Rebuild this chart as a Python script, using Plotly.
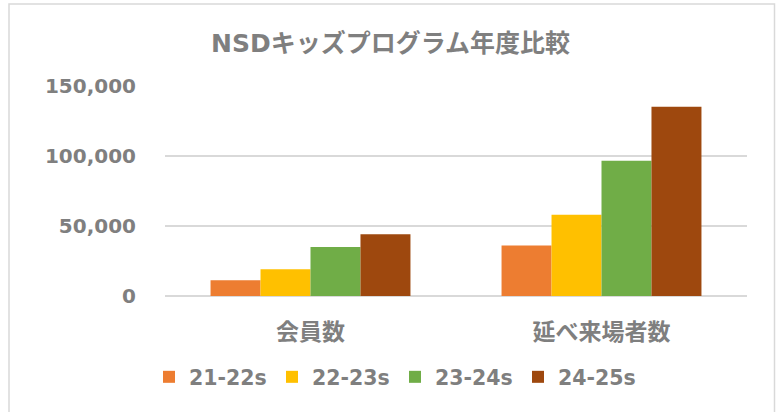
import plotly.graph_objects as go

categories = ["会員数", "延べ来場者数"]
series_names = ["21-22s", "22-23s", "23-24s", "24-25s"]
values_2122 = [11200, 36000]
values_2223 = [19100, 58000]
values_2324 = [35000, 96600]
values_2425 = [44100, 135200]
y_ticks = [0, 50000, 100000, 150000]
y_tick_labels = ["0", "50,000", "100,000", "150,000"]

colors = ["#ED7D31", "#FFC000", "#70AD47", "#9E480E"]
all_values = [values_2122, values_2223, values_2324, values_2425]

W, H = 781, 412
L, R, T, B = 165, 34, 86, 116
TEXT = "#7F7F7F"
FONT = "DejaVu Sans, Noto Sans CJK JP, sans-serif"

fig = go.Figure()
for name, vals, c in zip(series_names, all_values, colors):
    fig.add_trace(go.Bar(name=name, x=categories, y=vals, marker=dict(color=c, line=dict(width=0))))

pw = W - L - R
ph = H - T - B
def px_x(v):
    return (v - L) / pw
def px_y(v):
    return (H - B - v) / ph

fig.update_layout(
    width=W, height=H,
    margin=dict(l=L, r=R, t=T, b=B, autoexpand=False),
    paper_bgcolor="white", plot_bgcolor="white",
    barmode="group", bargap=0.313, bargroupgap=0,
    title=dict(text="<b>NSDキッズプログラム年度比較</b>", x=0.5, xanchor="center",
               y=1 - 43 / H, yanchor="middle",
               font=dict(family=FONT, size=25, color=TEXT)),
    font=dict(family=FONT, color=TEXT),
    showlegend=True,
    legend=dict(orientation="h", xref="container", x=149 / W, xanchor="left",
                yref="container", y=1 - 377 / H, yanchor="middle",
                font=dict(family=FONT, size=20.5, color=TEXT, weight="bold"),
                itemwidth=30, traceorder="normal",
                entrywidth=78, entrywidthmode="pixels",
                bgcolor="rgba(0,0,0,0)"),
    xaxis=dict(showgrid=False, showline=False, zeroline=False,
               ticks="outside", ticklen=15, tickcolor="rgba(0,0,0,0)",
               tickfont=dict(family=FONT, size=23, color=TEXT, weight="bold")),
    yaxis=dict(range=[0, 150000], tickvals=y_ticks, ticktext=y_tick_labels,
               showgrid=True, gridcolor="#D9D9D9", gridwidth=1.5,
               zeroline=True, zerolinecolor="#D9D9D9", zerolinewidth=1.5,
               showline=False, ticks="outside", ticklen=24,
               tickcolor="rgba(0,0,0,0)",
               tickfont=dict(family=FONT, size=20, color=TEXT, weight="bold")),
)

fig.add_shape(type="rect", xref="paper", yref="paper",
              x0=px_x(9), x1=px_x(774.5), y0=px_y(414), y1=px_y(4),
              line=dict(color="#D9D9D9", width=1.5), fillcolor="rgba(0,0,0,0)",
              layer="below")

fig.write_html("out.html", config={"displayModeBar": False},
               post_script="document.body.style.margin='0';")
